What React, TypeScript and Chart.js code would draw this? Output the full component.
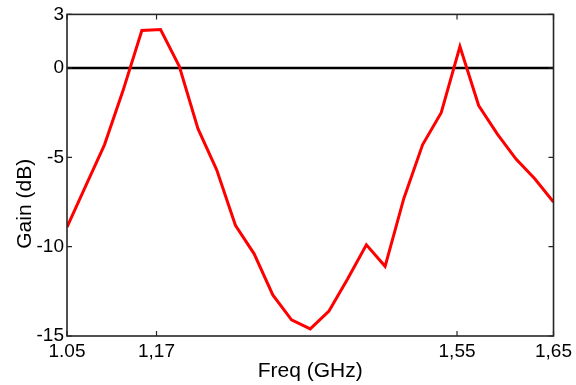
import React, { useEffect, useRef } from 'react';
import { Chart, registerables } from 'chart.js';

Chart.register(...registerables);

// Frequency samples (GHz)
const freqs = [
  1.05, 1.0731, 1.0962, 1.1192, 1.1423, 1.1654, 1.1885, 1.2115, 1.2346, 1.2577,
  1.2808, 1.3038, 1.3269, 1.35, 1.3731, 1.3962, 1.4192, 1.4423, 1.4654, 1.4885,
  1.5115, 1.5346, 1.5577, 1.5808, 1.6038, 1.6269, 1.65,
];
// Gain (dB)
const gainDb = [
  -8.9, -6.6, -4.3, -1.25, 2.1, 2.15, 0.1, -3.4, -5.7, -8.8,
  -10.4, -12.7, -14.1, -14.6, -13.6, -11.8, -9.9, -11.1, -7.3, -4.3,
  -2.5, 1.2, -2.1, -3.7, -5.1, -6.2, -7.5,
];
// Zero reference line
const zeroLineX = [1.05, 1.65];
const zeroLineY = [0, 0];

const xTickValues = [1.05, 1.1604, 1.531, 1.65];
const xTickLabels = ['1.05', '1,17', '1,55', '1,65'];
const yTickValues = [3, 0, -5, -10, -15];
const yTickLabels = ['3', '0', '-5', '-10', '-15'];
const xTitle = 'Freq (GHz)';
const yTitle = 'Gain (dB)';

const FONT = "'Liberation Sans', Arial, Helvetica, sans-serif";

export default function App() {
  const ref = useRef<HTMLCanvasElement>(null);

  useEffect(() => {
    document.body.style.margin = '0';
    const boxPlugin = {
      id: 'matlabBox',
      afterDatasetsDraw(chart: any) {
        const { ctx, chartArea } = chart;
        const { left, right, top, bottom } = chartArea;
        const xs = chart.scales.x;
        const ys = chart.scales.y;
        ctx.save();
        ctx.strokeStyle = '#262626';
        ctx.lineWidth = 1.6;
        ctx.strokeRect(left, top, right - left, bottom - top);
        const tl = 5;
        ctx.lineWidth = 1.2;
        ctx.beginPath();
        xTickValues.forEach((v) => {
          const px = xs.getPixelForValue(v);
          ctx.moveTo(px, bottom);
          ctx.lineTo(px, bottom - tl);
          ctx.moveTo(px, top);
          ctx.lineTo(px, top + tl);
        });
        yTickValues.forEach((v) => {
          const py = ys.getPixelForValue(v);
          ctx.moveTo(left, py);
          ctx.lineTo(left + tl, py);
          ctx.moveTo(right, py);
          ctx.lineTo(right - tl, py);
        });
        ctx.stroke();
        // y axis title
        ctx.translate(25, ys.getPixelForValue(-7.6));
        ctx.rotate(-Math.PI / 2);
        ctx.fillStyle = '#000';
        ctx.font = `21px ${FONT}`;
        ctx.textAlign = 'center';
        ctx.textBaseline = 'middle';
        ctx.fillText(yTitle, 0, 0);
        ctx.restore();
      },
    };

    const chart = new Chart(ref.current as HTMLCanvasElement, {
      type: 'line',
      data: {
        datasets: [
          {
            data: freqs.map((f, i) => ({ x: f, y: gainDb[i] })),
            borderColor: '#ff0000',
            borderWidth: 3,
            pointRadius: 0,
            tension: 0,
            fill: false,
            order: 1,
          },
          {
            data: zeroLineX.map((f, i) => ({ x: f, y: zeroLineY[i] })),
            borderColor: '#000000',
            borderWidth: 2.5,
            pointRadius: 0,
            fill: false,
            order: 2,
          },
        ],
      },
      options: {
        responsive: false,
        animation: false,
        layout: { padding: { top: 14, right: 20, left: 0, bottom: 0 } },
        plugins: { legend: { display: false }, tooltip: { enabled: false } },
        scales: {
          x: {
            type: 'linear',
            min: 1.05,
            max: 1.65,
            grid: { display: false, drawTicks: false },
            border: { display: false },
            afterBuildTicks: (s: any) => {
              s.ticks = xTickValues.map((v) => ({ value: v }));
            },
            afterFit: (s: any) => {
              s.height = 49;
            },
            ticks: {
              padding: 4,
              autoSkip: false,
              maxRotation: 0,
              color: '#000',
              font: { family: FONT, size: 19 },
              callback: (v: any) => {
                const i = xTickValues.indexOf(Number(v));
                return i >= 0 ? xTickLabels[i] : '';
              },
            },
            title: {
              display: true,
              text: xTitle,
              color: '#000',
              font: { family: FONT, size: 21 },
              padding: { top: 0, bottom: 1.5 },
            },
          },
          y: {
            type: 'linear',
            min: -15,
            max: 3,
            grid: { display: false, drawTicks: false },
            border: { display: false },
            afterBuildTicks: (s: any) => {
              s.ticks = yTickValues.map((v) => ({ value: v }));
            },
            afterFit: (s: any) => {
              s.width = 67;
            },
            ticks: {
              padding: 3,
              autoSkip: false,
              color: '#000',
              font: { family: FONT, size: 19 },
              callback: (v: any) => {
                const i = yTickValues.indexOf(Number(v));
                return i >= 0 ? yTickLabels[i] : '';
              },
            },
          },
        },
      },
      plugins: [boxPlugin],
    });
    return () => chart.destroy();
  }, []);

  return (
    <div style={{ width: 576, height: 385 }}>
      <canvas ref={ref} width={576} height={385} style={{ display: 'block' }} />
    </div>
  );
}
